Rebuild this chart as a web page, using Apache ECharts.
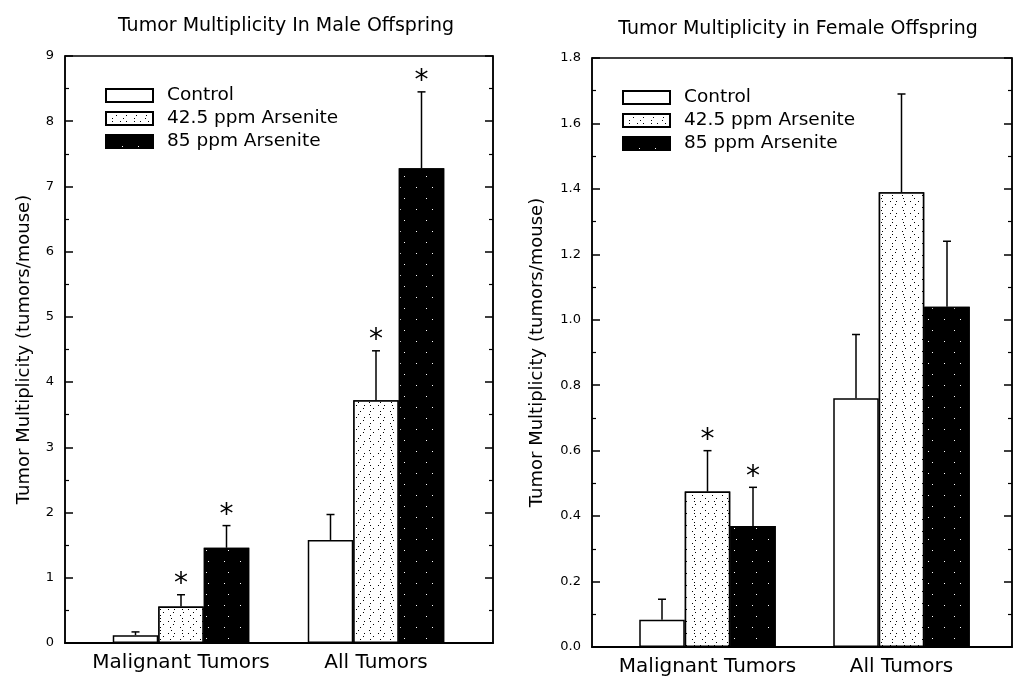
<!DOCTYPE html>
<html>
<head>
<meta charset="utf-8">
<script src="https://cdn.jsdelivr.net/npm/echarts@6/dist/echarts.min.js"></script>
<style>
  html, body { margin: 0; padding: 0; background: #fff; }
  #main { width: 1014px; height: 677px; }
</style>
</head>
<body>
<div id="main"></div>
<script>
// 数据：两个图（雄性/雌性子代）
var categories = ['Malignant Tumors', 'All Tumors'];
var groups = ['Control', '42.5 ppm Arsenite', '85 ppm Arsenite'];

// male offspring, mean per group (order: Malignant, All)
var maleControl = [0.12, 1.58];
var maleLow = [0.56, 3.72];
var maleHigh = [1.46, 7.28];
// upper error (SE)
var maleControlErr = [0.05, 0.39];
var maleLowErr = [0.18, 0.76];
var maleHighErr = [0.34, 1.17];
// significance asterisks
var maleControlStar = [0, 0];
var maleLowStar = [1, 1];
var maleHighStar = [1, 1];

// female offspring
var femaleControl = [0.083, 0.76];
var femaleLow = [0.475, 1.39];
var femaleHigh = [0.37, 1.04];
var femaleControlErr = [0.063, 0.195];
var femaleLowErr = [0.125, 0.30];
var femaleHighErr = [0.118, 0.20];
var femaleControlStar = [0, 0];
var femaleLowStar = [1, 0];
var femaleHighStar = [1, 0];

var maleTicks = { min: 0, max: 9, interval: 1 };
var femaleTicks = { min: 0, max: 1.8, interval: 0.2 };

var FONT = '"DejaVu Sans", Arial, sans-serif';
var BAR_W = 45.5;

var myChart = echarts.init(document.getElementById('main'));

// 填充样式：对照白色、低剂量点状、高剂量黑色
var fills = [
  { color: '#fff' },
  { color: '#fff', decal: { symbol: 'rect', symbolSize: 1, color: '#000', backgroundColor: '#fff',
      dashArrayX: [[1, 5, 1, 7], [0, 3, 1, 6], [1, 9], [0, 6, 1, 4]], dashArrayY: [1, 2] } },
  { color: '#000', decal: { symbol: 'rect', symbolSize: 1, color: '#fff', backgroundColor: '#000',
      dashArrayX: [[1, 15], [0, 8, 1, 13]], dashArrayY: [1, 10] } }
];

function errRender(groupIdx) {
  return function (params, api) {
    var m = api.value(1), se = api.value(2), star = api.value(3);
    var base = api.coord([api.value(0), m]);
    var top = api.coord([api.value(0), m + se]);
    var cx = base[0] + (groupIdx - 1) * BAR_W;
    var children = [
      { type: 'line', shape: { x1: cx, y1: base[1], x2: cx, y2: top[1] }, style: { stroke: '#000', lineWidth: 1.5 } },
      { type: 'line', shape: { x1: cx - 4, y1: top[1], x2: cx + 4, y2: top[1] }, style: { stroke: '#000', lineWidth: 1.5 } }
    ];
    if (star) {
      children.push({ type: 'text', style: { text: '*', x: cx, y: top[1] + 4, align: 'center', verticalAlign: 'bottom',
        font: '28px ' + FONT, fill: '#000' } });
    }
    return { type: 'group', children: children };
  };
}

function frameY(gridIndex, ticks, pos, withLabel, fmt) {
  return {
    type: 'value', gridIndex: gridIndex, position: pos,
    min: ticks.min, max: ticks.max, interval: ticks.interval,
    axisLine: { show: true, lineStyle: { color: '#000', width: 1.5 } },
    axisTick: { show: true, inside: true, length: 8, lineStyle: { color: '#000', width: 1.5 } },
    minorTick: { show: true, splitNumber: 2, length: 4, lineStyle: { color: '#000', width: 1.2 } },
    splitLine: { show: false },
    axisLabel: { show: withLabel, color: '#000', fontSize: 13, fontFamily: FONT, margin: 11, formatter: fmt }
  };
}

function barsY(gridIndex, ticks) {
  return { type: 'value', gridIndex: gridIndex, min: ticks.min, max: ticks.max, show: false };
}

function barsX(gridIndex) {
  return { type: 'category', gridIndex: gridIndex, data: categories, axisLine: { show: false }, axisTick: { show: false },
    axisLabel: { color: '#000', fontSize: 20, fontFamily: FONT, margin: 10, interval: 0 } };
}

function frameX(gridIndex) {
  return { type: 'category', gridIndex: gridIndex, data: categories, axisLine: { lineStyle: { color: '#000', width: 2 } },
    axisTick: { show: false }, axisLabel: { show: false } };
}

var panels = [
  { data: [maleControl, maleLow, maleHigh], err: [maleControlErr, maleLowErr, maleHighErr],
    star: [maleControlStar, maleLowStar, maleHighStar], xi: 1, yi: 2 },
  { data: [femaleControl, femaleLow, femaleHigh], err: [femaleControlErr, femaleLowErr, femaleHighErr],
    star: [femaleControlStar, femaleLowStar, femaleHighStar], xi: 3, yi: 5 }
];

var series = [];
panels.forEach(function (p) {
  groups.forEach(function (g, gi) {
    series.push({
      name: g, type: 'bar', xAxisIndex: p.xi, yAxisIndex: p.yi,
      data: p.data[gi], barWidth: BAR_W, barGap: '0%',
      itemStyle: Object.assign({ borderColor: '#000', borderWidth: 1.5 }, fills[gi]),
      z: 3
    });
  });
  groups.forEach(function (g, gi) {
    series.push({
      type: 'custom', xAxisIndex: p.xi, yAxisIndex: p.yi, z: 2,
      renderItem: errRender(gi),
      data: p.data[gi].map(function (v, i) { return [i, v, p.err[gi][i], p.star[gi][i]]; })
    });
  });
});

var legendBase = {
  orient: 'vertical', itemWidth: 47, itemHeight: 13, itemGap: 4, icon: 'rect',
  data: groups, selectedMode: false,
  textStyle: { color: '#000', fontSize: 18.5, fontFamily: FONT, padding: [0, 0, 0, 9] }
};

var option = {
  animation: false,
  title: [
    { text: 'Tumor Multiplicity In Male Offspring', left: 281, top: 12, textAlign: 'center',
      textStyle: { color: '#000', fontSize: 19, fontWeight: 'normal', fontFamily: FONT } },
    { text: 'Tumor Multiplicity in Female Offspring', left: 793, top: 15, textAlign: 'center',
      textStyle: { color: '#000', fontSize: 19, fontWeight: 'normal', fontFamily: FONT } }
  ],
  legend: [
    Object.assign({ left: 100, top: 81 }, legendBase),
    Object.assign({ left: 617, top: 83 }, legendBase)
  ],
  grid: [
    { left: 65, right: 521, top: 56, bottom: 34, show: true, borderColor: '#000', borderWidth: 1.5 },
    { left: 83.5, right: 540.5, top: 56, bottom: 34 },
    { left: 592, right: 2, top: 58, bottom: 30, show: true, borderColor: '#000', borderWidth: 1.5 },
    { left: 610.5, right: 15.5, top: 58, bottom: 30 }
  ],
  xAxis: [frameX(0), barsX(1), frameX(2), barsX(3)],
  yAxis: [
    Object.assign(frameY(0, maleTicks, 'left', true), {
      name: 'Tumor Multiplicity (tumors/mouse)', nameLocation: 'middle', nameGap: 32,
      nameTextStyle: { color: '#000', fontSize: 18, fontFamily: FONT } }),
    frameY(0, maleTicks, 'right', false),
    barsY(1, maleTicks),
    Object.assign(frameY(2, femaleTicks, 'left', true, function (v) { return v.toFixed(1); }), {
      name: 'Tumor Multiplicity (tumors/mouse)', nameLocation: 'middle', nameGap: 46,
      nameTextStyle: { color: '#000', fontSize: 18, fontFamily: FONT } }),
    frameY(2, femaleTicks, 'right', false),
    barsY(3, femaleTicks)
  ],
  series: series
};

myChart.setOption(option);
</script>
</body>
</html>
